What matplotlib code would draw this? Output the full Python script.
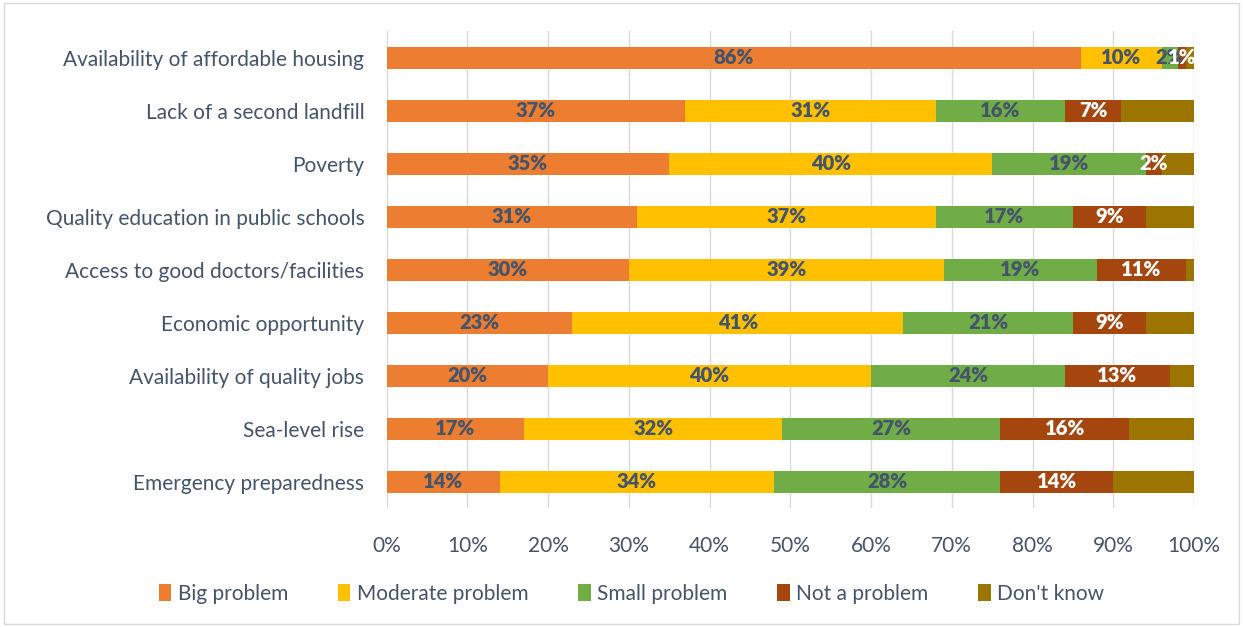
import numpy as np
import matplotlib

matplotlib.use("Agg")
import matplotlib.pyplot as plt
from matplotlib.patches import Rectangle

plt.rcParams["font.family"] = ["Lato", "DejaVu Sans"]

categories = [
    "Availability of affordable housing",
    "Lack of a second landfill",
    "Poverty",
    "Quality education in public schools",
    "Access to good doctors/facilities",
    "Economic opportunity",
    "Availability of quality jobs",
    "Sea-level rise",
    "Emergency preparedness",
]
series = ["Big problem", "Moderate problem", "Small problem", "Not a problem", "Don't know"]
big = [86, 37, 35, 31, 30, 23, 20, 17, 14]
moderate = [10, 31, 40, 37, 39, 41, 40, 32, 34]
small = [2, 16, 19, 17, 19, 21, 24, 27, 28]
not_problem = [1, 7, 2, 9, 11, 9, 13, 16, 14]
dont_know = [1, 9, 4, 6, 1, 6, 3, 8, 10]

colors = ["#ED7D31", "#FFC000", "#70AD47", "#A5460F", "#9C7400"]
label_colors = ["#44546A", "#44546A", "#44546A", "white", None]
text_color = "#44546A"

fig = plt.figure(figsize=(12.43, 6.27), dpi=100)
ax = fig.add_axes([0.311, 0.189, 0.6496, 0.761])

values = np.array([big, moderate, small, not_problem, dont_know], dtype=float)
y = np.arange(len(categories))
left = np.zeros(len(categories))
for vals, name, col, lc in zip(values, series, colors, label_colors):
    ax.barh(y, vals, left=left, height=0.42, color=col, label=name, zorder=2)
    if lc is not None:
        for yi, (l, v) in enumerate(zip(left, vals)):
            ax.text(l + v / 2, yi, f"{v:.0f}%", ha="center", va="center",
                    color=lc, fontsize=14.5, fontweight="heavy", zorder=3)
    left += vals

ax.set_xlim(0, 100)
ax.set_ylim(len(categories) - 0.5, -0.5)
ax.set_xticks(np.arange(0, 101, 10))
ax.set_xticklabels([f"{t}%" for t in range(0, 101, 10)])
ax.set_yticks(y)
ax.set_yticklabels(categories)
ax.tick_params(axis="both", length=0, labelsize=15, colors=text_color)
ax.tick_params(axis="x", pad=20)
ax.tick_params(axis="y", pad=16)
ax.grid(axis="x", color="#D9D9D9", lw=1, zorder=0)
for s in ax.spines.values():
    s.set_visible(False)

fig.legend(*ax.get_legend_handles_labels(), loc="center", ncol=5,
           bbox_to_anchor=(0.508, 0.053), frameon=False, fontsize=15,
           handlelength=0.6, handleheight=0.9, handletextpad=0.3,
           columnspacing=2.4, labelcolor=text_color)

fig.patches.append(Rectangle((0.003, 0.004), 0.994, 0.992, transform=fig.transFigure,
                             fill=False, edgecolor="#D9D9D9", lw=1))

fig.savefig("out.png", dpi=100)
